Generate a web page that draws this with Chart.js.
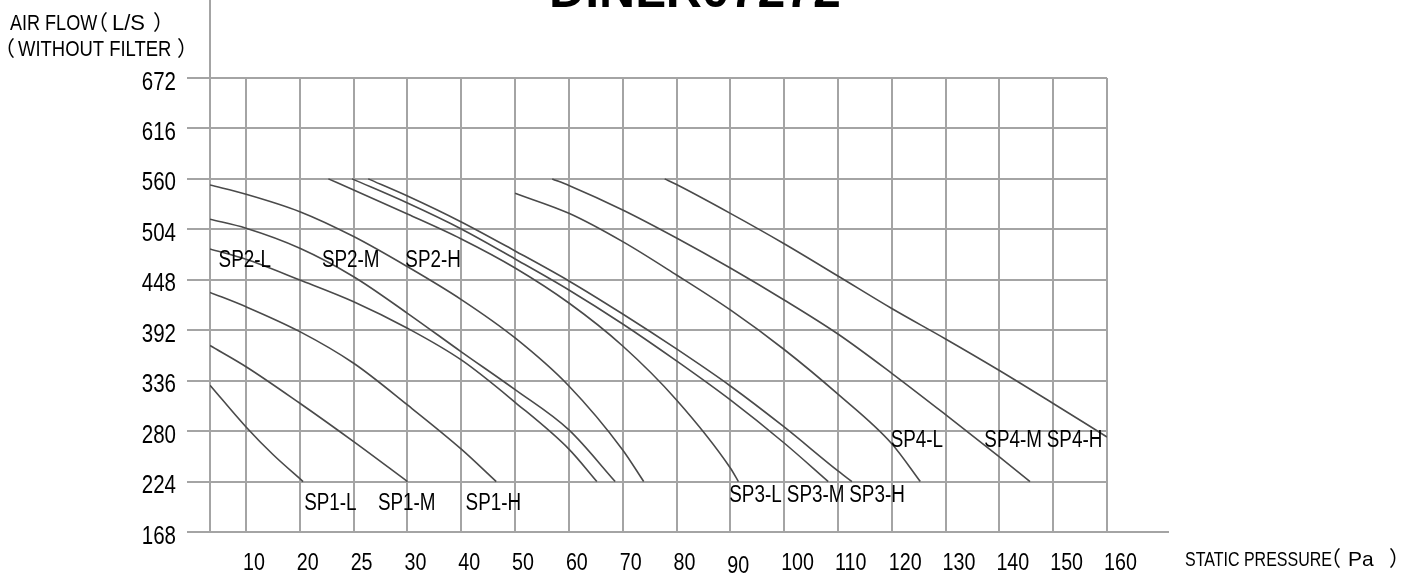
<!DOCTYPE html>
<html>
<head>
<meta charset="utf-8">
<script src="https://cdn.jsdelivr.net/npm/chart.js@4.4.1/dist/chart.umd.min.js"></script>
<style>
html, body { margin: 0; padding: 0; background: #fff; }
#wrap { width: 1423px; height: 578px; position: relative; }
</style>
</head>
<body>
<div id="wrap"><canvas id="chart"></canvas></div>
<script>
// x values are grid positions: 1 = first grid line ("10"), 17 = last ("160")
const TICK_LABELS = ['10', '20', '25', '30', '40', '50', '60', '70', '80', '90', '100', '110', '120', '130', '140', '150', '160'];
const Y_TICKS = [168, 224, 280, 336, 392, 448, 504, 560, 616, 672];

const SP1_L = [[0.33, 331], [1, 284.6], [1.5, 254], [2.06, 224]];
const SP1_M = [[0.33, 375], [1, 351.5], [2, 310.9], [3, 268.3], [4, 224]];
const SP1_H = [[0.33, 434], [1, 418], [2, 390.4], [3, 355.3], [4, 309], [5, 260], [5.65, 224]];
const SP2_L = [[0.33, 482.2], [1, 470.8], [2, 447.8], [3, 423.7], [4, 394.2], [5, 359], [6, 312], [7, 260], [7.52, 224]];
const SP2_M = [[0.33, 515.2], [1, 505.2], [2, 483], [3, 451.4], [4, 410.8], [5, 368], [6, 326], [7, 281.3], [7.86, 224]];
const SP2_H = [[0.33, 553.2], [1, 543], [2, 523.6], [3, 496], [4, 462.5], [5, 426], [6, 383.4], [7, 330.1], [8, 259.1], [8.39, 224]];
const SP3_L = [[2.53, 560], [3, 547.7], [4, 521], [5, 493.3], [6, 461.1], [7, 422.2], [8, 374.5], [9, 314.6], [10, 239.1], [10.15, 224]];
const SP3_M = [[2.97, 560], [4, 533.2], [5, 504.4], [6, 471.1], [7, 436.7], [8, 398.9], [9, 357.9], [10, 314.6], [11, 266.8], [11.82, 224]];
const SP3_H = [[3.27, 560], [4, 541], [5, 512.2], [6, 480], [7, 446.7], [8, 410], [9, 371.2], [10, 330.1], [11, 284.6], [12, 235.8], [12.26, 224]];
const SP4_L = [[6, 544], [7, 521.8], [8, 490.3], [9, 453.3], [10, 414.5], [11, 370.6], [12, 321], [13, 266], [13.53, 224]];
const SP4_M = [[6.69, 560], [7, 552.7], [8, 525.5], [9, 494.4], [10, 461.1], [11, 425.6], [12, 387.8], [13, 344.2], [14, 298.3], [15, 251.3], [15.57, 224]];
const SP4_H = [[8.78, 560], [9, 553.7], [10, 521.7], [11, 488], [12, 452.2], [13, 416.1], [14, 382.3], [15, 347.3], [16, 310.7], [17, 273.5]];

const SERIES_NAMES = ['SP1-L', 'SP1-M', 'SP1-H', 'SP2-L', 'SP2-M', 'SP2-H', 'SP3-L', 'SP3-M', 'SP3-H', 'SP4-L', 'SP4-M', 'SP4-H'];
const SERIES_DATA = [SP1_L, SP1_M, SP1_H, SP2_L, SP2_M, SP2_H, SP3_L, SP3_M, SP3_H, SP4_L, SP4_M, SP4_H];

// where each curve name sits (left edge, baseline), in chart units
const LABEL_AT = {
    'SP1-L': [2.08, 192.5], 'SP1-M': [3.45, 192.5], 'SP1-H': [5.08, 192.5],
    'SP2-L': [0.49, 462.5], 'SP2-M': [2.41, 462.5], 'SP2-H': [3.96, 462.5],
    'SP3-L': [9.98, 201.7], 'SP3-M': [11.05, 201.7], 'SP3-H': [12.21, 201.7],
    'SP4-L': [12.98, 262.7], 'SP4-M': [14.72, 262.7], 'SP4-H': [15.88, 262.7]
};

const FONT = "'Liberation Sans', Arial, 'Noto Sans CJK SC', sans-serif";
const CJK = "'Noto Sans CJK SC', 'Liberation Sans', sans-serif";
const SQUEEZE = 0.82; // Arial Narrow look
const GRID = '#a4a4a4';
const CURVE = '#4a4a4a';

function narrowText(ctx, text, px, py, size, align) {
    ctx.save();
    ctx.font = size + 'px ' + FONT;
    ctx.textAlign = align || 'left';
    ctx.textBaseline = 'alphabetic';
    ctx.translate(px, py);
    ctx.scale(SQUEEZE, 1);
    ctx.fillText(text, 0, 0);
    ctx.restore();
}

function plainText(ctx, text, px, py, size, family) {
    ctx.save();
    ctx.font = size + 'px ' + (family || FONT);
    ctx.textAlign = 'left';
    ctx.textBaseline = 'alphabetic';
    ctx.fillText(text, px, py);
    ctx.restore();
}

const decorations = {
    id: 'decorations',
    afterDraw(chart) {
        let ctx = chart.ctx;
        let area = chart.chartArea;
        let x = chart.scales.x, y = chart.scales.y;
        ctx.save();

        // axis lines running past the grid
        ctx.strokeStyle = GRID;
        ctx.lineWidth = 2;
        ctx.beginPath();
        ctx.moveTo(Math.round(area.left), 0);
        ctx.lineTo(Math.round(area.left), area.top);
        ctx.moveTo(area.right, Math.round(area.bottom));
        ctx.lineTo(area.right + 62, Math.round(area.bottom));
        ctx.stroke();

        ctx.fillStyle = '#000';

        // tick labels
        y.ticks.forEach(t => narrowText(ctx, String(t.value), 176, y.getPixelForValue(t.value) + 11.5, 25, 'right'));
        x.ticks.forEach(t => {
            let dy = t.value === 10 ? 3 : 0; // "90" sits a little low in the original
            narrowText(ctx, TICK_LABELS[t.value - 1], x.getPixelForValue(t.value) - 3, 570 + dy, 24);
        });

        // axis titles
        narrowText(ctx, 'AIR FLOW', 10, 30, 22);
        plainText(ctx, '（', 87, 30, 21, CJK);
        plainText(ctx, 'L/S', 112, 30, 22);
        plainText(ctx, '）', 153, 30, 21, CJK);
        plainText(ctx, '（', -6, 56, 21, CJK);
        narrowText(ctx, 'WITHOUT FILTER', 18, 56, 22.5);
        plainText(ctx, '）', 177, 56, 21, CJK);
        narrowText(ctx, 'STATIC PRESSURE', 1185, 566, 19.5);
        plainText(ctx, '（', 1320, 566, 21, CJK);
        plainText(ctx, 'Pa', 1348, 566, 21);
        plainText(ctx, '）', 1389, 566, 21, CJK);

        SERIES_NAMES.forEach(name => {
            let at = LABEL_AT[name];
            narrowText(ctx, name, x.getPixelForValue(at[0]), y.getPixelForValue(at[1]), 23);
        });

        ctx.font = "bold 50px 'Liberation Sans', sans-serif";
        ctx.textAlign = 'center';
        ctx.textBaseline = 'alphabetic';
        ctx.fillText('DINLR07272', 695, 7);

        ctx.restore();
    }
};

new Chart(document.getElementById('chart'), {
    type: 'line',
    data: {
        datasets: SERIES_NAMES.map((name, i) => ({
            label: name,
            data: SERIES_DATA[i].map(p => ({x: p[0], y: p[1]})),
            borderColor: CURVE,
            borderWidth: 1.6,
            pointRadius: 0,
            cubicInterpolationMode: 'monotone',
            fill: false
        }))
    },
    options: {
        responsive: true,
        maintainAspectRatio: false,
        animation: false,
        layout: {
            padding: {left: 0, top: 78, right: 316, bottom: 0}
        },
        scales: {
            x: {
                type: 'linear',
                min: 0.33,
                max: 17,
                afterBuildTicks: function(scale) {
                    scale.ticks = TICK_LABELS.map((label, i) => ({value: i + 1}));
                },
                afterFit: function(scale) {
                    scale.height = 46;
                    scale.paddingLeft = 0;
                    scale.paddingRight = 0;
                },
                grid: {
                    color: GRID,
                    lineWidth: 2,
                    drawTicks: false
                },
                border: {color: GRID, width: 2},
                ticks: {display: false, autoSkip: false}
            },
            y: {
                min: Y_TICKS[0],
                max: Y_TICKS[Y_TICKS.length - 1],
                afterBuildTicks: function(scale) {
                    scale.ticks = Y_TICKS.map(v => ({value: v}));
                },
                afterFit: function(scale) {
                    scale.width = 210;
                    scale.paddingTop = 0;
                    scale.paddingBottom = 0;
                },
                grid: {
                    color: GRID,
                    lineWidth: 2,
                    drawTicks: true,
                    tickLength: 23,
                    tickColor: GRID
                },
                border: {color: GRID, width: 2},
                ticks: {display: false, padding: 0}
            }
        },
        plugins: {
            legend: {display: false},
            tooltip: {enabled: false},
            title: {display: false}
        }
    },
    plugins: [decorations]
});
</script>
</body>
</html>
